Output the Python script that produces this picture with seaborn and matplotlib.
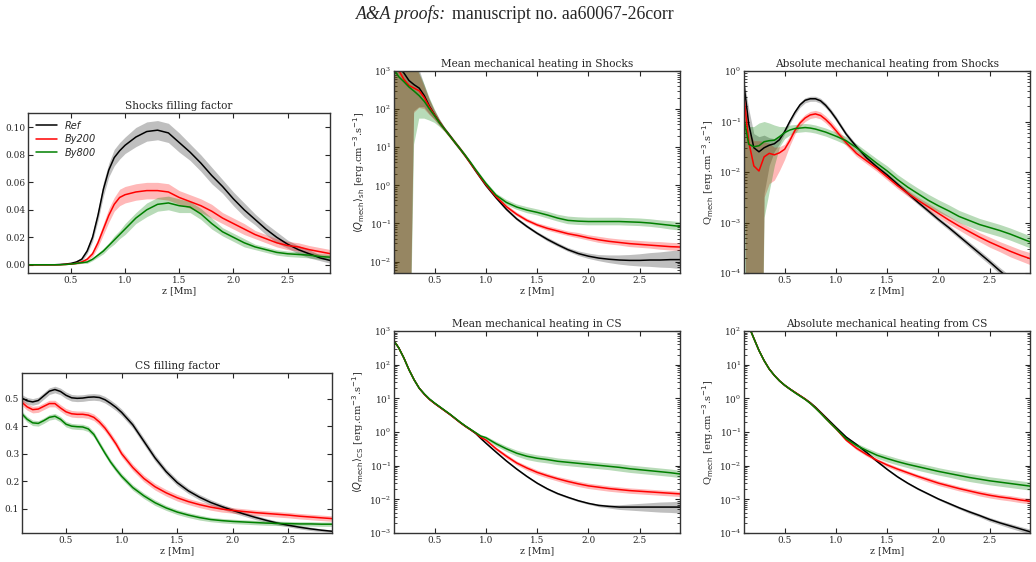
import numpy as np
import pandas as pd
import matplotlib
matplotlib.use("Agg")
import matplotlib.pyplot as plt
import seaborn as sns
from matplotlib.ticker import MultipleLocator, LogLocator, NullFormatter, FormatStrFormatter

# height grid [Mm]
z = [0.10, 0.15, 0.20, 0.25, 0.30, 0.35, 0.40, 0.45, 0.50, 0.55, 0.60, 0.65, 0.70, 0.75, 0.80, 0.85, 0.90, 0.95, 1.00,
     1.10, 1.20, 1.30, 1.40, 1.50, 1.60, 1.70, 1.80, 1.90, 2.00, 2.10, 2.20, 2.30, 2.40, 2.50, 2.60, 2.70, 2.80, 2.90]
runs = ["Ref", "By200", "By800"]
colors = {"Ref": "black", "By200": "red", "By800": "green"}
band_alpha = {"Ref": 0.25, "By200": 0.28, "By800": 0.28}

# shocks filling factor
shff_ref = [0, 0, 0, 0, 0, 0, 0.0002, 0.0005, 0.001, 0.002, 0.004, 0.010, 0.020, 0.036, 0.055, 0.069, 0.078, 0.083, 0.087,
            0.093, 0.097, 0.098, 0.096, 0.089, 0.082, 0.074, 0.065, 0.057, 0.048, 0.040, 0.033, 0.026, 0.020, 0.015, 0.011, 0.008, 0.005, 0.003]
shff_b200 = [0, 0, 0, 0, 0, 0, 0, 0.0002, 0.0005, 0.001, 0.002, 0.004, 0.008, 0.016, 0.026, 0.036, 0.044, 0.049, 0.051,
             0.053, 0.054, 0.054, 0.053, 0.049, 0.046, 0.043, 0.039, 0.034, 0.030, 0.026, 0.022, 0.019, 0.016, 0.014, 0.013, 0.011, 0.0095, 0.008]
shff_b800 = [0, 0, 0, 0, 0, 0, 0, 0.0002, 0.0005, 0.001, 0.0015, 0.002, 0.004, 0.007, 0.010, 0.014, 0.018, 0.022, 0.026,
             0.034, 0.040, 0.044, 0.045, 0.043, 0.042, 0.037, 0.030, 0.024, 0.020, 0.016, 0.013, 0.011, 0.009, 0.008, 0.0075, 0.007, 0.006, 0.0055]
shff_ref_err = [0, 0, 0, 0, 0, 0, 0, 0.0003, 0.0005, 0.001, 0.0015, 0.002, 0.003, 0.004, 0.005, 0.005, 0.006, 0.006, 0.006,
                0.007, 0.007, 0.007, 0.007, 0.007, 0.006, 0.006, 0.006, 0.005, 0.005, 0.005, 0.004, 0.004, 0.004, 0.003, 0.003, 0.003, 0.002, 0.002]
shff_b200_err = [0, 0, 0, 0, 0, 0, 0, 0, 0.0003, 0.0005, 0.001, 0.0015, 0.002, 0.003, 0.004, 0.005, 0.005, 0.006, 0.006,
                 0.006, 0.006, 0.006, 0.006, 0.005, 0.005, 0.005, 0.005, 0.004, 0.004, 0.004, 0.003, 0.003, 0.003, 0.003, 0.003, 0.003, 0.003, 0.003]
shff_b800_err = [0, 0, 0, 0, 0, 0, 0, 0, 0.0002, 0.0003, 0.0005, 0.001, 0.001, 0.0015, 0.002, 0.002, 0.003, 0.003, 0.004,
                 0.004, 0.005, 0.005, 0.005, 0.005, 0.004, 0.004, 0.004, 0.003, 0.003, 0.003, 0.002, 0.002, 0.002, 0.002, 0.002, 0.002, 0.002, 0.002]

# mean mechanical heating in shocks, log10 [erg cm-3 s-1]
shq_ref = [3.4, 3.1, 2.95, 2.75, 2.64, 2.55, 2.35, 2.07, 1.85, 1.65, 1.47, 1.3, 1.12, 0.95, 0.77, 0.58, 0.38, 0.19, 0.0,
           -0.33, -0.63, -0.88, -1.08, -1.26, -1.42, -1.56, -1.69, -1.79, -1.86, -1.91, -1.94, -1.96, -1.97, -1.97, -1.96, -1.96, -1.95, -1.95]
shq_b200 = [3.3, 3.02, 2.78, 2.62, 2.55, 2.48, 2.3, 2.05, 1.84, 1.64, 1.46, 1.29, 1.12, 0.95, 0.77, 0.58, 0.39, 0.2, 0.02,
            -0.3, -0.56, -0.76, -0.92, -1.04, -1.13, -1.2, -1.27, -1.32, -1.38, -1.43, -1.47, -1.5, -1.53, -1.55, -1.57, -1.59, -1.61, -1.62]
shq_b800 = [3.05, 2.85, 2.72, 2.58, 2.47, 2.35, 2.2, 2.0, 1.82, 1.63, 1.46, 1.29, 1.12, 0.95, 0.78, 0.6, 0.41, 0.23, 0.05,
            -0.26, -0.45, -0.57, -0.65, -0.71, -0.78, -0.86, -0.92, -0.94, -0.95, -0.95, -0.95, -0.95, -0.96, -0.97, -0.99, -1.02, -1.05, -1.08]
shq_ref_err = [9, 9, 9, 9, 0.7, 0.5, 0.3, 0.2, 0.12, 0.08, 0.05, 0.05, 0.05, 0.05, 0.05, 0.05, 0.05, 0.05, 0.05,
               0.04, 0.04, 0.04, 0.04, 0.04, 0.05, 0.05, 0.05, 0.06, 0.07, 0.08, 0.1, 0.12, 0.14, 0.16, 0.18, 0.2, 0.22, 0.25]
shq_b200_err = [9, 9, 9, 9, 0.65, 0.45, 0.3, 0.2, 0.12, 0.08, 0.05, 0.05, 0.05, 0.05, 0.05, 0.05, 0.05, 0.05, 0.05,
                0.05, 0.05, 0.05, 0.05, 0.05, 0.06, 0.06, 0.06, 0.07, 0.07, 0.08, 0.08, 0.08, 0.09, 0.09, 0.09, 0.1, 0.1, 0.1]
shq_b800_err = [9, 9, 9, 9, 1.4, 0.6, 0.45, 0.3, 0.18, 0.1, 0.06, 0.05, 0.05, 0.05, 0.05, 0.05, 0.05, 0.05, 0.05,
                0.05, 0.07, 0.07, 0.08, 0.08, 0.09, 0.09, 0.1, 0.1, 0.1, 0.1, 0.1, 0.1, 0.1, 0.1, 0.1, 0.1, 0.11, 0.11]

# absolute mechanical heating from shocks, log10
sha_ref = [-0.2, -1.05, -1.52, -1.6, -1.52, -1.47, -1.44, -1.36, -1.2, -1.0, -0.82, -0.67, -0.58, -0.55, -0.55, -0.59, -0.68, -0.8, -0.94,
           -1.25, -1.5, -1.72, -1.9, -2.06, -2.24, -2.42, -2.6, -2.77, -2.94, -3.1, -3.27, -3.44, -3.61, -3.78, -3.96, -4.13, -4.3, -4.47]
sha_b200 = [-0.44, -1.4, -1.88, -1.98, -1.7, -1.63, -1.66, -1.62, -1.55, -1.38, -1.18, -1.03, -0.93, -0.87, -0.85, -0.88, -0.96, -1.06, -1.18,
            -1.42, -1.63, -1.78, -1.93, -2.1, -2.27, -2.42, -2.56, -2.69, -2.82, -2.95, -3.07, -3.18, -3.29, -3.39, -3.48, -3.57, -3.65, -3.72]
sha_b800 = [-0.9, -1.45, -1.5, -1.48, -1.4, -1.38, -1.37, -1.3, -1.22, -1.17, -1.14, -1.13, -1.12, -1.13, -1.15, -1.18, -1.21, -1.25, -1.29,
            -1.38, -1.52, -1.67, -1.83, -1.98, -2.15, -2.3, -2.43, -2.56, -2.67, -2.77, -2.88, -2.96, -3.04, -3.1, -3.16, -3.23, -3.31, -3.39]
sha_ref_dn = [0.1, 9, 9, 9, 0.9, 0.4, 0.15, 0.08, 0.05, 0.05, 0.05, 0.05, 0.05, 0.05, 0.05, 0.05, 0.05, 0.05, 0.05,
              0.045, 0.045, 0.045, 0.045, 0.045, 0.045, 0.045, 0.045, 0.045, 0.045, 0.05, 0.05, 0.055, 0.06, 0.06, 0.065, 0.07, 0.07, 0.07]
sha_ref_up = [0.1, 0.3, 0.28, 0.3, 0.25, 0.15, 0.1, 0.07, 0.05, 0.05, 0.05, 0.05, 0.05, 0.05, 0.05, 0.05, 0.05, 0.05, 0.05,
              0.045, 0.045, 0.045, 0.045, 0.045, 0.045, 0.045, 0.045, 0.045, 0.045, 0.05, 0.05, 0.055, 0.06, 0.06, 0.065, 0.07, 0.07, 0.07]
sha_b200_dn = [0.1, 9, 9, 9, 0.8, 0.6, 0.5, 0.35, 0.2, 0.1, 0.07, 0.07, 0.07, 0.07, 0.07, 0.07, 0.07, 0.07, 0.07,
               0.06, 0.06, 0.06, 0.06, 0.06, 0.06, 0.06, 0.06, 0.07, 0.07, 0.08, 0.08, 0.09, 0.09, 0.1, 0.1, 0.11, 0.11, 0.12]
sha_b200_up = [0.1, 0.2, 0.5, 0.6, 0.3, 0.2, 0.15, 0.12, 0.1, 0.1, 0.07, 0.07, 0.07, 0.07, 0.07, 0.07, 0.07, 0.07, 0.07,
               0.06, 0.06, 0.06, 0.06, 0.06, 0.06, 0.06, 0.06, 0.07, 0.07, 0.08, 0.08, 0.09, 0.09, 0.1, 0.1, 0.11, 0.11, 0.12]
sha_b800_dn = [9, 9, 9, 9, 1.5, 1.0, 0.5, 0.2, 0.12, 0.1, 0.08, 0.08, 0.08, 0.08, 0.08, 0.08, 0.08, 0.08, 0.08,
               0.08, 0.08, 0.08, 0.09, 0.1, 0.1, 0.11, 0.11, 0.12, 0.12, 0.12, 0.12, 0.12, 0.12, 0.12, 0.12, 0.12, 0.12, 0.12]
sha_b800_up = [0.3, 0.35, 0.4, 0.45, 0.4, 0.35, 0.3, 0.2, 0.12, 0.1, 0.08, 0.08, 0.08, 0.08, 0.08, 0.08, 0.08, 0.08, 0.08,
               0.08, 0.08, 0.08, 0.09, 0.1, 0.1, 0.11, 0.11, 0.12, 0.12, 0.12, 0.12, 0.12, 0.12, 0.12, 0.12, 0.12, 0.12, 0.12]

# current sheets filling factor
csff_ref = [0.503, 0.492, 0.488, 0.493, 0.51, 0.527, 0.533, 0.526, 0.512, 0.503, 0.501, 0.502, 0.505, 0.506, 0.504, 0.496, 0.483, 0.468, 0.45,
            0.405, 0.345, 0.285, 0.235, 0.195, 0.165, 0.142, 0.123, 0.108, 0.094, 0.081, 0.069, 0.058, 0.048, 0.04, 0.033, 0.027, 0.022, 0.018]
csff_b200 = [0.488, 0.47, 0.46, 0.462, 0.472, 0.482, 0.482, 0.466, 0.452, 0.445, 0.443, 0.443, 0.44, 0.432, 0.415, 0.393, 0.365, 0.335, 0.30,
             0.25, 0.21, 0.18, 0.158, 0.14, 0.126, 0.115, 0.106, 0.099, 0.094, 0.09, 0.086, 0.083, 0.08, 0.077, 0.073, 0.07, 0.067, 0.064]
csff_b800 = [0.446, 0.425, 0.412, 0.41, 0.42, 0.432, 0.436, 0.425, 0.407, 0.40, 0.398, 0.397, 0.39, 0.37, 0.336, 0.302, 0.27, 0.243, 0.218,
             0.177, 0.147, 0.122, 0.103, 0.088, 0.077, 0.068, 0.061, 0.057, 0.054, 0.052, 0.05, 0.048, 0.047, 0.046, 0.045, 0.045, 0.044, 0.044]
csff_ref_err = [0.012, 0.012, 0.012, 0.012, 0.012, 0.012, 0.012, 0.012, 0.012, 0.012, 0.012, 0.012, 0.012, 0.012, 0.012, 0.012, 0.012, 0.012, 0.012,
                0.012, 0.012, 0.012, 0.011, 0.011, 0.01, 0.01, 0.01, 0.009, 0.009, 0.008, 0.008, 0.007, 0.007, 0.006, 0.006, 0.006, 0.005, 0.005]
csff_b200_err = [0.012, 0.012, 0.012, 0.012, 0.012, 0.012, 0.012, 0.012, 0.012, 0.012, 0.012, 0.012, 0.012, 0.012, 0.012, 0.012, 0.012, 0.012, 0.012,
                 0.012, 0.012, 0.012, 0.012, 0.012, 0.011, 0.011, 0.011, 0.011, 0.01, 0.01, 0.01, 0.01, 0.01, 0.01, 0.01, 0.01, 0.01, 0.01]
csff_b800_err = [0.01, 0.01, 0.01, 0.01, 0.01, 0.01, 0.01, 0.01, 0.01, 0.01, 0.01, 0.01, 0.01, 0.01, 0.01, 0.01, 0.01, 0.01, 0.01,
                 0.01, 0.01, 0.01, 0.009, 0.009, 0.009, 0.009, 0.008, 0.008, 0.008, 0.008, 0.008, 0.008, 0.008, 0.008, 0.008, 0.008, 0.008, 0.008]

# mean mechanical heating in current sheets, log10
csq_ref = [2.72, 2.5, 2.2, 1.85, 1.55, 1.3, 1.12, 0.97, 0.85, 0.74, 0.63, 0.52, 0.4, 0.28, 0.17, 0.07, -0.04, -0.19, -0.33,
           -0.6, -0.86, -1.1, -1.32, -1.52, -1.69, -1.83, -1.94, -2.04, -2.12, -2.18, -2.21, -2.23, -2.23, -2.23, -2.23, -2.23, -2.23, -2.23]
csq_b200 = [2.72, 2.5, 2.2, 1.85, 1.55, 1.3, 1.12, 0.97, 0.85, 0.74, 0.63, 0.52, 0.4, 0.28, 0.17, 0.07, -0.03, -0.16, -0.24,
            -0.5, -0.72, -0.92, -1.07, -1.2, -1.3, -1.39, -1.47, -1.54, -1.6, -1.64, -1.68, -1.71, -1.74, -1.76, -1.78, -1.8, -1.82, -1.84]
csq_b800 = [2.72, 2.5, 2.2, 1.85, 1.55, 1.3, 1.13, 0.98, 0.86, 0.75, 0.64, 0.53, 0.41, 0.29, 0.18, 0.08, -0.02, -0.12, -0.17,
            -0.35, -0.5, -0.63, -0.72, -0.78, -0.82, -0.87, -0.9, -0.93, -0.96, -0.99, -1.02, -1.05, -1.09, -1.12, -1.15, -1.18, -1.21, -1.25]
csq_ref_err = [0.03, 0.03, 0.03, 0.03, 0.03, 0.03, 0.03, 0.03, 0.03, 0.03, 0.03, 0.03, 0.03, 0.03, 0.03, 0.03, 0.03, 0.03, 0.03,
               0.03, 0.03, 0.03, 0.03, 0.03, 0.03, 0.03, 0.03, 0.03, 0.03, 0.04, 0.05, 0.07, 0.09, 0.11, 0.13, 0.15, 0.16, 0.18]
csq_b200_err = [0.03, 0.03, 0.03, 0.03, 0.03, 0.03, 0.03, 0.03, 0.03, 0.03, 0.03, 0.03, 0.03, 0.03, 0.03, 0.03, 0.03, 0.03, 0.04,
                0.05, 0.06, 0.06, 0.07, 0.07, 0.07, 0.07, 0.08, 0.08, 0.08, 0.08, 0.08, 0.08, 0.08, 0.08, 0.08, 0.08, 0.08, 0.08]
csq_b800_err = [0.03, 0.03, 0.03, 0.03, 0.03, 0.03, 0.03, 0.03, 0.03, 0.03, 0.03, 0.03, 0.03, 0.03, 0.03, 0.03, 0.03, 0.04, 0.05,
                0.07, 0.08, 0.09, 0.1, 0.1, 0.1, 0.1, 0.1, 0.1, 0.1, 0.1, 0.1, 0.11, 0.11, 0.11, 0.11, 0.11, 0.11, 0.11]

# absolute mechanical heating from current sheets, log10
csa_ref = [2.55, 2.15, 1.78, 1.42, 1.12, 0.87, 0.68, 0.52, 0.39, 0.28, 0.18, 0.08, -0.02, -0.13, -0.26, -0.41, -0.56, -0.71, -0.86,
           -1.15, -1.37, -1.61, -1.87, -2.11, -2.33, -2.52, -2.69, -2.84, -2.99, -3.12, -3.25, -3.37, -3.48, -3.6, -3.7, -3.79, -3.88, -3.97]
csa_b200 = [2.55, 2.15, 1.78, 1.42, 1.12, 0.87, 0.68, 0.52, 0.39, 0.28, 0.18, 0.08, -0.02, -0.14, -0.28, -0.43, -0.59, -0.75, -0.9,
            -1.24, -1.48, -1.67, -1.84, -1.98, -2.1, -2.21, -2.32, -2.42, -2.52, -2.6, -2.68, -2.75, -2.82, -2.88, -2.93, -2.97, -3.02, -3.06]
csa_b800 = [2.55, 2.15, 1.78, 1.42, 1.12, 0.87, 0.68, 0.52, 0.39, 0.28, 0.17, 0.07, -0.03, -0.15, -0.29, -0.44, -0.6, -0.75, -0.9,
            -1.2, -1.4, -1.55, -1.69, -1.79, -1.88, -1.96, -2.03, -2.1, -2.17, -2.23, -2.29, -2.35, -2.4, -2.45, -2.49, -2.53, -2.57, -2.61]
csa_ref_err = [0.03, 0.03, 0.03, 0.03, 0.03, 0.03, 0.03, 0.03, 0.03, 0.03, 0.03, 0.03, 0.03, 0.03, 0.03, 0.03, 0.03, 0.03, 0.03,
               0.03, 0.03, 0.03, 0.03, 0.03, 0.03, 0.03, 0.03, 0.03, 0.03, 0.04, 0.04, 0.05, 0.05, 0.06, 0.06, 0.07, 0.07, 0.08]
csa_b200_err = [0.03, 0.03, 0.03, 0.03, 0.03, 0.03, 0.03, 0.03, 0.03, 0.03, 0.03, 0.03, 0.03, 0.03, 0.03, 0.03, 0.03, 0.03, 0.03,
                0.04, 0.05, 0.05, 0.05, 0.06, 0.06, 0.06, 0.06, 0.07, 0.07, 0.07, 0.07, 0.07, 0.08, 0.08, 0.08, 0.08, 0.08, 0.08]
csa_b800_err = [0.03, 0.03, 0.03, 0.03, 0.03, 0.03, 0.03, 0.03, 0.03, 0.03, 0.03, 0.03, 0.03, 0.03, 0.03, 0.03, 0.03, 0.03, 0.04,
                0.06, 0.07, 0.08, 0.09, 0.1, 0.1, 0.1, 0.11, 0.11, 0.11, 0.11, 0.12, 0.12, 0.12, 0.12, 0.12, 0.12, 0.12, 0.12]

sns.set_style("ticks")
plt.rcParams["font.family"] = ["DejaVu Serif"]
plt.rcParams["mathtext.fontset"] = "dejavusans"

W, H = 1036, 562
fig = plt.figure(figsize=(W / 100, H / 100), dpi=100)


def rect(l, r, t, b):
    return [l / W, 1 - b / H, (r - l) / W, (b - t) / H]


def draw(ax, means, errs, log=False, legend=False):
    frames = []
    for run, m, e in zip(runs, means, errs):
        m = np.asarray(m, float)
        dn, up = (np.asarray(e[0], float), np.asarray(e[1], float)) if isinstance(e, tuple) else (np.asarray(e, float),) * 2
        if log:
            lo, hi, y = 10 ** (m - dn), 10 ** (m + up), 10 ** m
        else:
            lo, hi, y = m - dn, m + up, m
        ax.fill_between(z, lo, hi, color=colors[run], alpha=band_alpha[run], lw=0)
        frames.append(pd.DataFrame({"z": z, "val": y, "run": run}))
    df = pd.concat(frames, ignore_index=True)
    sns.lineplot(data=df, x="z", y="val", hue="run", palette=colors, estimator=None, sort=False,
                 lw=1.1, ax=ax, legend=legend)
    if legend:
        h, l = ax.get_legend_handles_labels()
        ax.legend(h, l, loc="upper left", frameon=False, handlelength=2.2, borderaxespad=0.4,
                  labelspacing=0.35, prop={"family": "DejaVu Sans", "style": "italic", "size": 7})


def style(ax, title, ylabel=""):
    ax.set_title(title, fontsize=7.6, pad=3)
    ax.set_xlabel("z [Mm]", fontsize=6.8, labelpad=1)
    ax.set_ylabel(ylabel, fontsize=7.2, labelpad=2)
    ax.set_xlim(0.104, 2.892)
    ax.xaxis.set_major_locator(MultipleLocator(0.5))
    ax.tick_params(which="major", direction="in", top=True, right=True, labelsize=6.4, length=3.5, width=0.8, pad=2)
    ax.tick_params(which="minor", direction="in", top=False, right=True, length=2, width=0.6)
    for s in ax.spines.values():
        s.set_color("0.2")
        s.set_linewidth(1.0)


def logy(ax, lo, hi):
    # decades lo..hi, labels only inside the shown range
    ax.set_yscale("log")
    ax.set_ylim(10.0 ** lo, 10.0 ** hi)
    ax.set_yticks([10.0 ** k for k in range(int(np.ceil(lo)), int(hi) + 1)])
    ax.yaxis.set_minor_locator(LogLocator(base=10, subs=np.arange(2, 10), numticks=20))
    ax.yaxis.set_minor_formatter(NullFormatter())


unit = " [erg.cm$^{-3}$.s$^{-1}$]"

ax1 = fig.add_axes(rect(28, 330, 113, 273))
draw(ax1, [shff_ref, shff_b200, shff_b800], [shff_ref_err, shff_b200_err, shff_b800_err], legend=True)
style(ax1, "Shocks filling factor")
ax1.set_ylim(-0.006, 0.1105)
ax1.set_yticks([0.0, 0.02, 0.04, 0.06, 0.08, 0.10])
ax1.yaxis.set_major_formatter(FormatStrFormatter("%.2f"))

ax2 = fig.add_axes(rect(394, 680, 71, 273))
draw(ax2, [shq_ref, shq_b200, shq_b800], [shq_ref_err, shq_b200_err, shq_b800_err], log=True)
style(ax2, "Mean mechanical heating in Shocks", r"$\langle Q_{\rm mech}\rangle_{\rm sh}$" + unit)
logy(ax2, np.log10(5e-3), 3)

ax3 = fig.add_axes(rect(744, 1030, 71, 273))
draw(ax3, [sha_ref, sha_b200, sha_b800],
     [(sha_ref_dn, sha_ref_up), (sha_b200_dn, sha_b200_up), (sha_b800_dn, sha_b800_up)], log=True)
style(ax3, "Absolute mechanical heating from Shocks", r"Q$_{\rm mech}$" + unit)
logy(ax3, -4, 0)

ax4 = fig.add_axes(rect(22, 332, 373, 533))
draw(ax4, [csff_ref, csff_b200, csff_b800], [csff_ref_err, csff_b200_err, csff_b800_err])
style(ax4, "CS filling factor")
ax4.set_ylim(0.012, 0.593)
ax4.set_yticks([0.1, 0.2, 0.3, 0.4, 0.5])

ax5 = fig.add_axes(rect(394, 680, 331, 533))
draw(ax5, [csq_ref, csq_b200, csq_b800], [csq_ref_err, csq_b200_err, csq_b800_err], log=True)
style(ax5, "Mean mechanical heating in CS", r"$\langle Q_{\rm mech}\rangle_{\rm CS}$" + unit)
logy(ax5, -3, 3)

ax6 = fig.add_axes(rect(744, 1030, 331, 533))
draw(ax6, [csa_ref, csa_b200, csa_b800], [csa_ref_err, csa_b200_err, csa_b800_err], log=True)
style(ax6, "Absolute mechanical heating from CS", r"Q$_{\rm mech}$" + unit)
logy(ax6, -4, 2)

fig.text(356 / W, 1 - 19 / H, "A&A proofs:", family="Liberation Serif", style="italic", fontsize=12.8, va="baseline")
fig.text(452 / W, 1 - 19 / H, "manuscript no. aa60067-26corr", family="Liberation Serif", fontsize=12.8, va="baseline")

fig.savefig("out.png", dpi=100)
